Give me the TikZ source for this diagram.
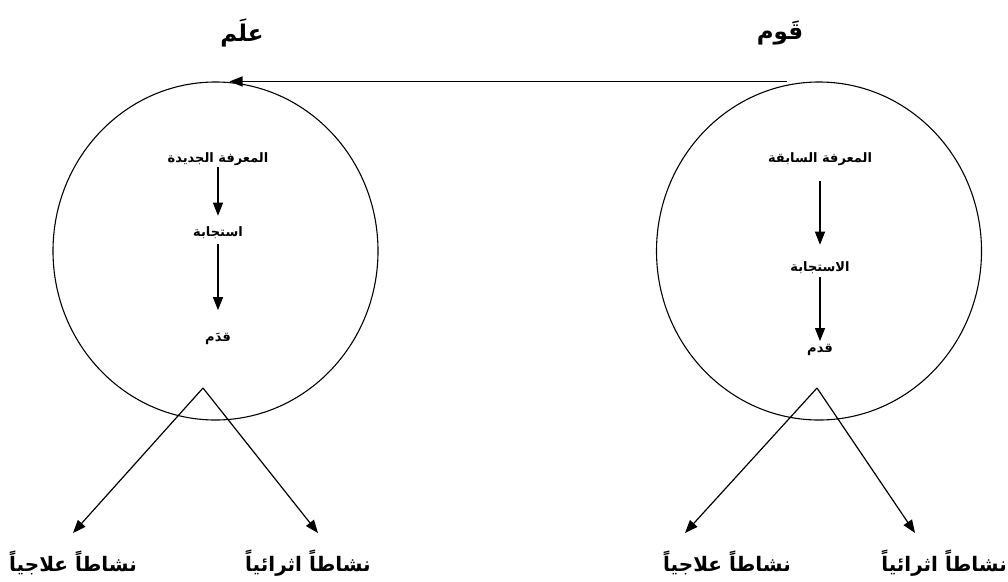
\documentclass[tikz,border=0pt]{standalone}
\usepackage{fontspec}
\newfontfamily\arabicfont[Script=Arabic]{DejaVu Sans}
\TeXXeTstate=1
\usetikzlibrary{arrows.meta,shapes.geometric,positioning}
\newcommand{\artext}[1]{\beginR #1\endR}
\tikzset{
  circ/.style={draw,ellipse,minimum width=325pt,minimum height=338pt,line width=1.1pt},
  arr/.style={line width=1.2pt,-{Triangle[length=13pt,width=10pt]}},
  title/.style={font=\arabicfont\bfseries\fontsize{23}{27}\selectfont,inner sep=1pt},
  inlab/.style={font=\arabicfont\bfseries\fontsize{13}{15}\selectfont,inner sep=1pt},
  outlab/.style={font=\arabicfont\bfseries\fontsize{20}{24}\selectfont,inner sep=1pt}
}
\begin{document}
\begin{tikzpicture}[x=1pt,y=-1pt]
\useasboundingbox (0,0) rectangle (1008,581);
\node[circ] (lcirc) at (215.5,251) {};
\node[circ] (rcirc) at (819,251) {};
\node[title] (ilm) at (242,33) {\artext{علَم}};
\node[title] (qawm) at (780,33) {\artext{قَوم}};
\draw[arr] ([xshift=-32pt]rcirc.north) -- ([xshift=14pt]lcirc.north);
% left circle
\node[inlab] (ljadida) at (218,159) {\artext{المعرفة الجديدة}};
\node[inlab] (listij) at (218,233) {\artext{استجابة}};
\node[inlab] (lqadam) at (218,339) {\artext{قدَم}};
\draw[arr,shorten >=10pt] (ljadida) -- (listij);
\draw[arr,shorten <=4pt,shorten >=22pt] (listij) -- (lqadam);
% right circle
\node[inlab] (rsabiqa) at (820,159) {\artext{المعرفة السابقة}};
\node[inlab] (ristij) at (820,268) {\artext{الاستجابة}};
\node[inlab] (rqadam) at (820,350) {\artext{قدم}};
\draw[arr,shorten <=14pt,shorten >=16pt] (rsabiqa) -- (ristij);
\draw[arr,shorten <=2pt,shorten >=2pt] (ristij) -- (rqadam);
% activities
\coordinate (lapex) at (203,388);
\coordinate (lleft) at (73,533);
\coordinate (lright) at (318,533);
\coordinate (rapex) at (817,388);
\coordinate (rleft) at (685,533);
\coordinate (rright) at (915,533);
\node[outlab] (ltreat) at (73,563) {\artext{نشاطاً علاجياً}};
\node[outlab] (lenrich) at (308,563) {\artext{نشاطاً اثرائياً}};
\node[outlab] (rtreat) at (727,563) {\artext{نشاطاً علاجياً}};
\node[outlab] (renrich) at (944,563) {\artext{نشاطاً اثرائياً}};
\draw[arr] (lapex) -- (lleft);
\draw[arr] (lapex) -- (lright);
\draw[arr] (rapex) -- (rleft);
\draw[arr] (rapex) -- (rright);
\end{tikzpicture}
\end{document}
